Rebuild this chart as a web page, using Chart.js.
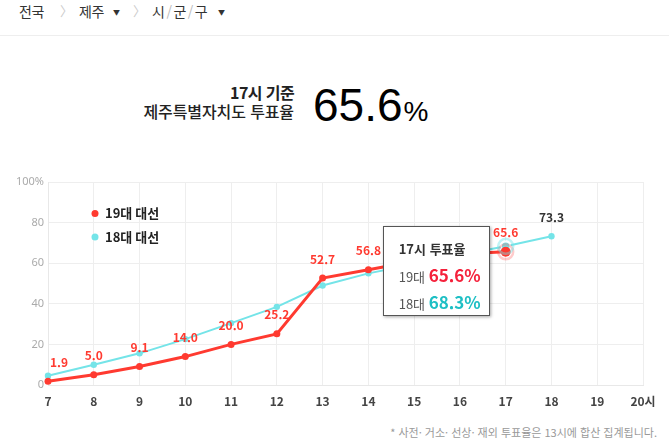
<!DOCTYPE html>
<html lang="ko">
<head>
<meta charset="utf-8">
<script src="https://cdn.jsdelivr.net/npm/chart.js@4.4.1/dist/chart.umd.min.js"></script>
<style>
    html, body { margin: 0; padding: 0; background: #fff; }
    body { width: 669px; height: 447px; position: relative; overflow: hidden;
           font-family: "Noto Sans CJK KR", "Noto Sans", sans-serif; color: #222; }
    .nav span { position: absolute; top: 1px; font-size: 14px; line-height: 20px; color: #333; letter-spacing: -0.5px; }
    .nav .sep { color: #ccc; font-size: 13px; }
    .nav .slash { position: static; color: #bbb; margin: 0 2px; }
    .nav .caret { font-size: 7px; color: #333; top: 2px; }
    .line { position: absolute; left: 0; right: 0; top: 35px; border-top: 1px solid #eee; }
    .head { position: absolute; right: 375px; top: 83px; text-align: right; line-height: 19px; }
    .head .t1 { font-size: 16px; font-weight: bold; letter-spacing: -0.6px; }
    .head .t2 { font-size: 16px; font-weight: 500; letter-spacing: -0.1px; }
    .big { position: absolute; left: 313px; top: 78px; font-family: "Liberation Sans", Arial, sans-serif;
           font-size: 46px; color: #000; }
    .big small { font-size: 28px; margin-left: 1px; }
    #wrap { position: absolute; left: 0; top: 170px; width: 669px; height: 240px; }
    #tip { position: absolute; width: 107px; height: 90px; background: #fff; border: 1px solid #555;
           box-shadow: 1px 1px 3px rgba(0,0,0,0.35); box-sizing: border-box; padding: 13px 0 0 15px; display: none; }
    #tip .tt { font-size: 13px; font-weight: bold; color: #333; line-height: 18px; margin-bottom: 4px; }
    #tip .row { font-size: 13px; color: #555; line-height: 25px; }
    #tip .row b { font-size: 17px; }
    .note { position: absolute; right: 12px; top: 424px; font-size: 11px; color: #999; }
</style>
</head>
<body>
<div class="nav">
    <span style="left:19px">전국</span>
    <span class="sep" style="left:60px">〉</span>
    <span style="left:79px">제주</span><span class="caret" style="left:113px">▼</span>
    <span class="sep" style="left:133px">〉</span>
    <span style="left:152px">시<span class="slash">/</span>군<span class="slash">/</span>구</span><span class="caret" style="left:218px">▼</span>
</div>
<div class="line"></div>
<div class="head"><div class="t1">17시 기준</div><div class="t2">제주특별자치도 투표율</div></div>
<div class="big">65.6<small>%</small></div>
<div id="wrap"><canvas id="turnout-chart"></canvas></div>
<div id="tip"></div>
<div class="note">* 사전· 거소· 선상· 재외 투표율은 13시에 합산 집계됩니다.</div>

<script>
// 시간대 (x축)
const hours = [7, 8, 9, 10, 11, 12, 13, 14, 15, 16, 17, 18, 19, 20];
// 19대 대선 투표율
const vote19 = [1.9, 5.0, 9.1, 14.0, 20.0, 25.2, 52.7, 56.8, 61.0, 64.5, 65.6, null, null, null];
// 18대 대선 투표율
const vote18 = [4.6, 10.0, 15.6, 22.6, 30.5, 38.5, 49.0, 55.0, 59.5, 64.0, 68.3, 73.3, null, null];
// y축 눈금
const yTicks = [0, 20, 40, 60, 80, 100];
const seriesNames = ['19대 대선', '18대 대선'];
const tipHour = 17;

const RED = '#ff3a30';
const CYAN = '#74e4e8';
const tipIndex = hours.indexOf(tipHour);

// 범례 그리기
const legendPlugin = {
    id: 'customLegend',
    afterDraw(chart) {
        const ctx = chart.ctx;
        const colors = [RED, CYAN];
        ctx.save();
        seriesNames.forEach(function (name, i) {
            const y = 43.5 + i * 23.5;
            ctx.fillStyle = colors[i];
            ctx.beginPath();
            ctx.arc(95, y, 3.5, 0, Math.PI * 2);
            ctx.fill();
            ctx.fillStyle = '#222';
            ctx.font = 'bold 13px "Noto Sans CJK KR"';
            ctx.textBaseline = 'middle';
            ctx.fillText(name, 105, y);
        });
        ctx.restore();
    }
};

// 값 라벨 + 선택 지점 강조
const labelPlugin = {
    id: 'valueLabels',
    afterDatasetsDraw(chart) {
        const ctx = chart.ctx;
        const area = chart.chartArea;
        ctx.save();
        ctx.font = 'bold 12px "Noto Sans CJK KR"';
        ctx.textBaseline = 'middle';
        // 강조 링
        [[0, 'rgba(255,70,70,0.28)'], [1, 'rgba(116,228,232,0.45)']].forEach(function (h) {
            const pt = chart.getDatasetMeta(h[0]).data[tipIndex];
            if (!pt) return;
            ctx.strokeStyle = h[1];
            ctx.lineWidth = 2.5;
            ctx.beginPath();
            ctx.arc(pt.x, pt.y, 7.5, 0, Math.PI * 2);
            ctx.stroke();
        });
        chart.getDatasetMeta(0).data.forEach(function (pt, i) {
            if (vote19[i] == null) return;
            const txt = vote19[i].toFixed(1);
            const w = ctx.measureText(txt).width;
            ctx.fillStyle = RED;
            ctx.textAlign = (pt.x - w / 2 < area.left) ? 'left' : 'center';
            ctx.fillText(txt, ctx.textAlign === 'left' ? pt.x + 2 : pt.x, pt.y - 19);
        });
        chart.getDatasetMeta(1).data.forEach(function (pt, i) {
            if (vote18[i] == null || vote19[i] != null) return;
            ctx.fillStyle = '#333';
            ctx.textAlign = 'center';
            ctx.fillText(vote18[i].toFixed(1), pt.x, pt.y - 19);
        });
        ctx.restore();
    },
    afterRender(chart) {
        const tip = document.getElementById('tip');
        const x = chart.scales.x.getPixelForValue(tipIndex);
        const y = chart.scales.y.getPixelForValue(vote19[tipIndex]);
        tip.style.left = (x - 16 - 107) + 'px';
        tip.style.top = (170 + y - 26) + 'px';
        tip.innerHTML = '<div class="tt">' + tipHour + '시 투표율</div>' +
            '<div class="row">19대 <b style="color:#f5213b">' + vote19[tipIndex].toFixed(1) + '%</b></div>' +
            '<div class="row">18대 <b style="color:#1dbfc4">' + vote18[tipIndex].toFixed(1) + '%</b></div>';
        tip.style.display = 'block';
    }
};

new Chart(document.getElementById('turnout-chart'), {
    type: 'line',
    data: {
        labels: hours,
        datasets: [{
            label: seriesNames[0],
            data: vote19,
            borderColor: RED,
            backgroundColor: RED,
            borderWidth: 3,
            pointRadius: function (c) { return c.dataIndex === tipIndex ? 5 : 3.5; },
            pointBorderWidth: 0,
            tension: 0
        }, {
            label: seriesNames[1],
            data: vote18,
            borderColor: CYAN,
            backgroundColor: CYAN,
            borderWidth: 2,
            pointRadius: function (c) { return c.dataIndex === tipIndex ? 4.5 : 3.2; },
            pointBorderWidth: function (c) { return c.dataIndex === tipIndex ? 1.5 : 0; },
            pointBorderColor: '#fff',
            tension: 0
        }]
    },
    options: {
        responsive: true,
        maintainAspectRatio: false,
        animation: false,
        layout: { padding: { top: 12, right: 26, left: 0, bottom: 0 } },
        scales: {
            x: {
                grid: { color: '#eeeeee', drawTicks: false },
                border: { color: '#e8e8e8' },
                ticks: {
                    padding: 9,
                    color: '#444',
                    font: { family: 'Noto Sans CJK KR', size: 12, weight: 'bold' },
                    maxRotation: 0,
                    callback: function (v, i) { return i === hours.length - 1 ? hours[i] + '시' : hours[i]; }
                },
                afterFit: function (s) { s.height = 25; }
            },
            y: {
                min: 0,
                max: 100,
                grid: { color: '#eeeeee', drawTicks: false },
                border: { color: '#e8e8e8' },
                afterBuildTicks: function (s) { s.ticks = yTicks.map(function (v) { return { value: v }; }); },
                ticks: {
                    padding: 4,
                    color: '#aaa',
                    font: { family: 'Noto Sans', size: 11 },
                    callback: function (v) { return v === 100 ? '100%' : v; }
                },
                afterFit: function (s) { s.width = 48; }
            }
        },
        plugins: {
            legend: { display: false },
            tooltip: { enabled: false }
        }
    },
    plugins: [legendPlugin, labelPlugin]
});
</script>
</body>
</html>
